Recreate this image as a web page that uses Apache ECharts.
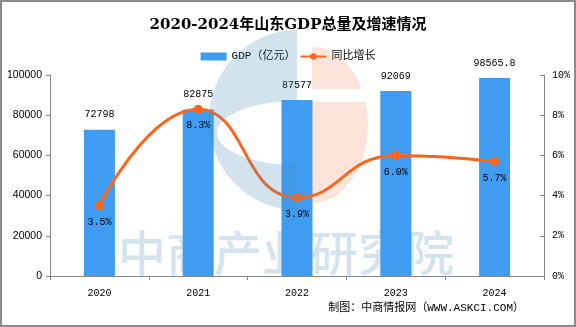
<!DOCTYPE html>
<html>
<head>
<meta charset="utf-8">
<script src="https://cdn.jsdelivr.net/npm/echarts@6/dist/echarts.min.js"></script>
<style>
  html, body { margin: 0; padding: 0; background: #fff; }
  #chart { width: 576px; height: 327px; }
</style>
</head>
<body>
<div id="chart"></div>
<script>
// Shandong GDP and year-on-year growth, 2020-2024
const years = ['2020', '2021', '2022', '2023', '2024'];
const gdpValues = [72798, 82875, 87577, 92069, 98565.8];   // 亿元
const growthRates = [3.5, 8.3, 3.9, 6.0, 5.7];              // %

const chart = echarts.init(document.getElementById('chart'));
const mono = '"Liberation Mono", "Noto Sans CJK SC", monospace';
const sans = '"Liberation Sans", Arial, sans-serif';

// --- outline helpers for the faint logo mark ---
function arcPts(cx, cy, rx, ry, a0, a1, n) {
  const pts = [];
  for (let i = 0; i <= n; i++) {
    const a = a0 + (a1 - a0) * i / n;
    pts.push([cx + rx * Math.cos(a), cy + ry * Math.sin(a)]);
  }
  return pts;
}
const D = Math.PI / 180;
// blue "C": left half of an ellipse with an elliptical opening
const logoC = [].concat(
  arcPts(297, 120, 88, 90, 270 * D, 90 * D, 40),
  arcPts(297, 133, 80, 32, 90 * D, 270 * D, 30)
);
// orange half disc, split by a horizontal notch
const orangeTop = [[312, 89]].concat(arcPts(312, 125, 56, 78, -90 * D, -27.5 * D, 14));
const orangeBottom = [[312, 102]].concat(arcPts(312, 125, 56, 78, -17.1 * D, 90 * D, 24));

chart.setOption({
  animation: false,
  backgroundColor: '#fff',
  title: {
    text: '2020-2024年山东GDP总量及增速情况',
    left: 'center',
    top: 13,
    textStyle: { fontFamily: '"DejaVu Serif", "Noto Sans CJK SC", serif', fontSize: 15, fontWeight: 'bold', color: '#000' }
  },
  legend: {
    top: 46,
    left: 'center',
    itemGap: 4,
    itemWidth: 26,
    itemHeight: 8,
    textStyle: { fontFamily: mono, fontSize: 11, color: '#000' },
    data: [
      { name: 'GDP（亿元）', icon: 'rect' },
      { name: '同比增长' }
    ]
  },
  graphic: [
    {
      type: 'rect', z: 100, silent: true,
      shape: { x: 1, y: 1, width: 574, height: 325 },
      style: { fill: 'none', stroke: '#8c8c8c', lineWidth: 2 }
    },
    {
      type: 'polygon', z: 50, silent: true,
      shape: { points: logoC },
      style: { fill: 'rgba(70,140,185,0.24)' }
    },
    {
      type: 'polygon', z: 50, silent: true,
      shape: { points: orangeTop },
      style: { fill: 'rgba(240,120,70,0.2)' }
    },
    {
      type: 'polygon', z: 50, silent: true,
      shape: { points: orangeBottom },
      style: { fill: 'rgba(240,120,70,0.2)' }
    },
    {
      type: 'text', left: 118, top: 229, z: 0, silent: true,
      style: { text: '中商产业研究院', fill: 'rgba(70,140,185,0.23)', font: '500 48px "Noto Sans CJK SC", sans-serif' }
    },
    {
      type: 'text', right: 52, top: 303,
      style: { text: '制图：中商情报网（WWW.ASKCI.COM）', fill: '#000', font: '11px ' + mono }
    }
  ],
  grid: { left: 50, right: 32, top: 75, bottom: 51 },
  xAxis: {
    type: 'category',
    data: years,
    axisLine: { lineStyle: { color: '#888' } },
    axisTick: { show: true, length: 4, lineStyle: { color: '#888' } },
    axisLabel: { color: '#000', fontFamily: mono, fontSize: 10, margin: 12 }
  },
  yAxis: [
    {
      type: 'value', min: 0, max: 100000, interval: 20000,
      axisLine: { show: true, lineStyle: { color: '#888' } },
      axisTick: { show: true, length: 4, lineStyle: { color: '#888' } },
      splitLine: { show: false },
      axisLabel: { color: '#000', fontFamily: sans, fontSize: 10.5, margin: 8, formatter: v => String(v) }
    },
    {
      type: 'value', min: 0, max: 10, interval: 2,
      axisLine: { show: true, lineStyle: { color: '#888' } },
      axisTick: { show: true, inside: true, length: 4, lineStyle: { color: '#888' } },
      splitLine: { show: false },
      axisLabel: { color: '#000', fontFamily: mono, fontSize: 10, margin: 8, formatter: '{value}%' }
    }
  ],
  series: [
    {
      name: 'GDP（亿元）',
      type: 'bar',
      data: gdpValues,
      barWidth: 31,
      z: 5,
      itemStyle: { color: '#3f9cf1' },
      label: { show: true, position: 'top', distance: 10, color: '#000', fontFamily: mono, fontSize: 10 }
    },
    {
      name: '同比增长',
      type: 'line',
      yAxisIndex: 1,
      smooth: true,
      z: 6,
      data: growthRates,
      symbol: 'circle',
      symbolSize: 9,
      lineStyle: { color: '#ff6419', width: 3 },
      itemStyle: { color: '#ff6419' },
      label: {
        show: true, position: 'bottom', distance: 7, color: '#000', fontFamily: mono, fontSize: 10,
        formatter: p => p.value.toFixed(1) + '%'
      }
    }
  ]
});
</script>
</body>
</html>
